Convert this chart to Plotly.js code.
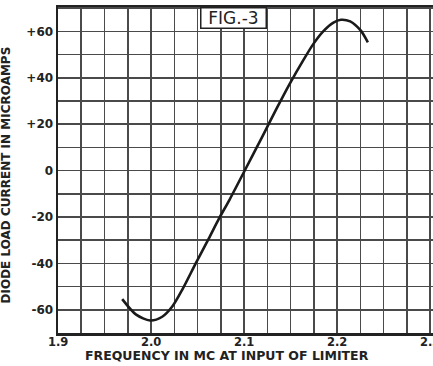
<!DOCTYPE html>
<html>
<head>
<meta charset="utf-8">
<script src="https://cdn.plot.ly/plotly-3.0.1.min.js"></script>
<style>html,body{margin:0;padding:0;background:#fff;}#chart{width:433px;height:366px;}</style>
</head>
<body>
<div id="chart"></div>
<script>
const freq = [1.969, 1.984, 1.999, 2.012, 2.023, 2.034, 2.048, 2.062, 2.073, 2.084, 2.1, 2.12, 2.135, 2.149, 2.1635, 2.1743, 2.185, 2.196, 2.204, 2.214, 2.225, 2.233];
const current = [-55.4, -62.1, -64.6, -63, -58.5, -51, -40, -29.3, -20.7, -12.8, -0.5, 15, 26.8, 37.4, 47.5, 54.5, 60, 63.8, 65, 64.3, 60.5, 55.3];
const xTickVals = [1.9, 2.0, 2.1, 2.2, 2.3];
const xTickText = ['1.9', '2.0', '2.1', '2.2', '2.3'];
const yTickVals = [-60, -40, -20, 0, 20, 40, 60];
const yTickText = ['-60', '-40', '-20', '0', '+20', '+40', '+60'];

const fontFam = 'DejaVu Sans, sans-serif';
const trace = {
  x: freq, y: current, mode: 'lines', type: 'scatter',
  line: {color: '#1a1a1a', width: 2.6, shape: 'spline', smoothing: 0.8},
  hoverinfo: 'skip', showlegend: false
};
const xLabelAnns = xTickVals.map((v, i) => ({
  text: xTickText[i], xref: 'x', yref: 'paper', x: v, y: -0.029, xanchor: 'center', yanchor: 'middle',
  showarrow: false, font: {family: fontFam, size: 11.5, color: '#222', weight: 'bold'}
}));
const layout = {
  width: 433, height: 366,
  margin: {l: 58, r: 0, t: 7, b: 33},
  paper_bgcolor: '#fff', plot_bgcolor: '#fff',
  font: {family: fontFam, color: '#222', size: 11},
  xaxis: {
    range: [1.9, 2.303], tickvals: xTickVals, showticklabels: false,
    showgrid: true, gridcolor: '#4a4a4a', gridwidth: 1.6,
    minor: {dtick: 0.025, tick0: 1.9, showgrid: true, gridcolor: '#4a4a4a', gridwidth: 1.6},
    showline: true, linecolor: '#222', linewidth: 2.5, mirror: true,
    ticks: '', zeroline: false, fixedrange: true
  },
  yaxis: {
    range: [-70, 70.5], tickvals: yTickVals, ticktext: yTickText,
    showgrid: true, gridcolor: '#4a4a4a', gridwidth: 1.6,
    minor: {dtick: 10, tick0: 0, showgrid: true, gridcolor: '#4a4a4a', gridwidth: 1.6},
    showline: true, linecolor: '#222', linewidth: 2.5, mirror: true,
    ticks: '', zeroline: false, fixedrange: true,
    tickfont: {family: fontFam, size: 12, color: '#222', weight: 'bold'}
  },
  annotations: xLabelAnns.concat([
    {text: 'FIG.-3', xref: 'paper', yref: 'paper', x: (200 - 58) / 375, y: 1, xanchor: 'left', yanchor: 'top',
     width: 62, height: 17, align: 'center',
     showarrow: false, bgcolor: '#fff', bordercolor: '#222', borderwidth: 1.5, borderpad: 1,
     font: {family: fontFam, size: 17, color: '#222'}},
    {text: 'FREQUENCY IN MC AT INPUT OF LIMITER', xref: 'paper', yref: 'paper',
     x: (227 - 58) / 375, y: -0.07, xanchor: 'center', yanchor: 'middle', showarrow: false,
     font: {family: fontFam, size: 12.5, color: '#222', weight: 'bold'}},
    {text: 'DIODE LOAD CURRENT IN MICROAMPS', xref: 'paper', yref: 'paper',
     x: -0.14, y: (333 - 175) / 326, xanchor: 'center', yanchor: 'middle', textangle: -90, showarrow: false,
     font: {family: fontFam, size: 12, color: '#222', weight: 'bold'}}
  ])
};
Plotly.newPlot('chart', [trace], layout, {displayModeBar: false, staticPlot: true});
</script>
</body>
</html>
